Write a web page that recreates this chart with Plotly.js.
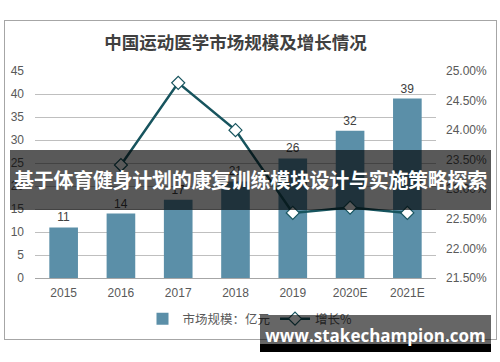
<!DOCTYPE html>
<html>
<head>
<meta charset="utf-8">
<script src="https://cdn.plot.ly/plotly-3.0.1.min.js"></script>
<style>
  html, body { margin:0; padding:0; background:#fff; }
  #wrap { position:relative; width:500px; height:362px; overflow:hidden; }
  #chart { position:absolute; left:0; top:0; width:500px; height:362px; }
  #frame { position:absolute; left:4px; top:20px; width:491px; height:318px; border:1px solid #a6a6a6; pointer-events:none; }
  #banner { position:absolute; left:10px; top:150px; width:481px; height:60px; background:rgba(0,0,0,0.65);
            color:#fff; font-family:"Noto Sans CJK SC","Noto Sans",sans-serif; font-weight:bold; font-size:20px;
            line-height:60px; text-align:center; white-space:nowrap; letter-spacing:-0.3px; }
  #wm { position:absolute; left:260px; top:315px; width:231px; height:37px; }
  #wm .g { position:absolute; left:0; top:0; width:231px; height:29px; background:rgba(0,0,0,0.6); }
  #wm .b { position:absolute; left:0; top:29px; width:231px; height:8px; background:#000; }
  #wm .t { position:absolute; left:0; top:10px; width:231px; text-align:center; color:#fff;
           font-family:"Open Sans","DejaVu Sans",sans-serif; font-weight:bold; font-size:17px; line-height:22px; white-space:nowrap; }
</style>
</head>
<body>
<div id="wrap">
  <div id="chart"></div>
  <div id="frame"></div>
  <div id="banner">基于体育健身计划的康复训练模块设计与实施策略探索</div>
  <div id="wm"><div class="g"></div><div class="b"></div><div class="t">www.stakechampion.com</div></div>
</div>
<script>
const years = ["2015","2016","2017","2018","2019","2020E","2021E"];
const marketSize = [11, 14, 17, 21, 26, 32, 39];
const growthYears = ["2016","2017","2018","2019","2020E","2021E"];
const growthPct = [23.41, 24.80, 24.00, 22.60, 22.69, 22.60];
const chartTitle = "中国运动医学市场规模及增长情况";
const barName = "市场规模：亿元";
const lineName = "增长%";

const tickFont = {family:"Liberation Sans, Arial, sans-serif", size:12, color:"#595959"};

const traces = [
  {
    type:"bar", x:years, y:marketSize, name:barName,
    marker:{color:"#5b8fa8"}, width:0.5,
    text:marketSize.map(String), textposition:"outside", cliponaxis:false,
    textfont:{family:"Liberation Sans, Arial, sans-serif", size:12, color:"#404040"},
    hoverinfo:"none"
  },
  {
    type:"scatter", mode:"lines+markers", x:growthYears, y:growthPct, name:lineName, yaxis:"y2",
    line:{color:"#17545e", width:2.5},
    marker:{symbol:"diamond", size:10, color:"#ffffff", line:{color:"#17545e", width:1.2}},
    cliponaxis:false, hoverinfo:"none"
  }
];

const layout = {
  width:500, height:362,
  margin:{l:35, r:64, t:71, b:84},
  paper_bgcolor:"rgba(0,0,0,0)", plot_bgcolor:"rgba(0,0,0,0)",
  title:{text:chartTitle, x:0.5, xref:"paper", xanchor:"center", y:1-43/362, yref:"container", yanchor:"middle",
         font:{family:"Noto Sans CJK SC, sans-serif", size:17.5, color:"#404040", weight:"bold"}},
  showlegend:true,
  legend:{orientation:"h", x:0.5, xref:"container", xanchor:"center", y:1-319/362, yref:"container", yanchor:"middle",
          font:{family:"Noto Sans CJK SC, sans-serif", size:12.5, color:"#595959"}, traceorder:"normal",
          itemwidth:30, tracegroupgap:0},
  bargap:0.5,
  xaxis:{type:"category", range:[-0.5,6.5], tickfont:tickFont, showgrid:false, showline:false, ticks:"", ticklabelstandoff:6},
  yaxis:{range:[0,45], dtick:5, tick0:0, tickfont:tickFont, gridcolor:"#bfbfbf", gridwidth:1,
         zeroline:true, zerolinecolor:"#a6a6a6", zerolinewidth:1, showline:false, ticks:"", ticklabelstandoff:10},
  yaxis2:{range:[21.5,25], dtick:0.5, tick0:21.5, tickformat:".2f", ticksuffix:"%", overlaying:"y", side:"right",
          showgrid:false, zeroline:false, showline:false, tickfont:tickFont, ticks:"", ticklabelstandoff:9}
};

Plotly.newPlot("chart", traces, layout, {displayModeBar:false, staticPlot:true});
</script>
</body>
</html>
